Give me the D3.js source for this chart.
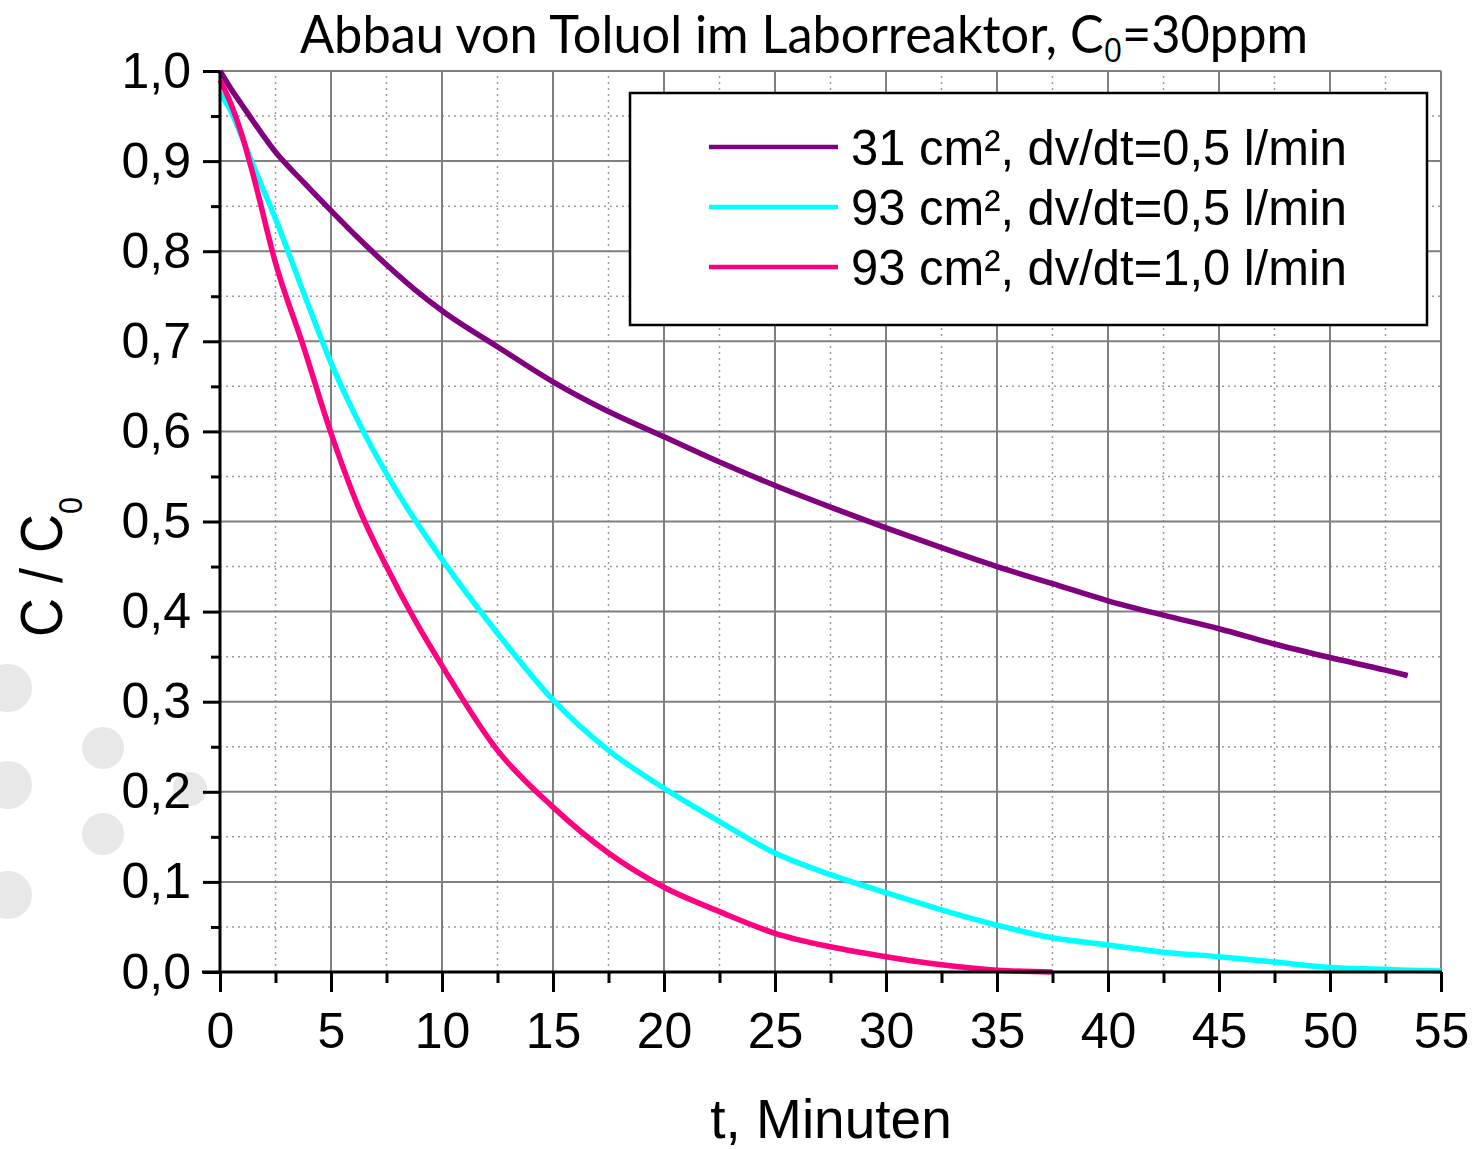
<!DOCTYPE html>
<html>

<head>
  <meta charset="UTF-8">
  <title>Abbau von Toluol</title>
  <style>
    body { margin: 0; background: #fff; }
    svg { display: block; }
  </style>
</head>

<body>
  <script src="https://cdn.jsdelivr.net/npm/d3@7"></script>
  <script>
    const width = 1479,
      height = 1149

    // Messzeitpunkte in Minuten
    const minutes = [0, 0.5, 1, 1.5, 2.5, 3.75, 5, 6.25, 7.5, 8.75, 10, 12.5, 15, 17.5, 20, 22.5,
      25, 27.5, 30, 32.5, 35, 37.5, 40, 42.5, 45, 47.5, 50, 52.5, 53.5, 55]

    // C/C0 je Versuch (null = kein Messwert)
    const area31flow05 = [1.0, 0.980, 0.962, 0.944, 0.910, 0.877, 0.845, 0.814, 0.785, 0.758, 0.734, 0.694,
      0.655, 0.622, 0.594, 0.566, 0.540, 0.516, 0.493, 0.471, 0.450, 0.431, 0.412, 0.396, 0.381, 0.364,
      0.349, 0.335, 0.329, null]
    const area93flow05 = [0.975, 0.955, 0.926, 0.895, 0.836, 0.755, 0.676, 0.610, 0.553, 0.503, 0.458, 0.376,
      0.302, 0.246, 0.204, 0.167, 0.132, 0.108, 0.088, 0.069, 0.052, 0.038, 0.030, 0.022, 0.017, 0.011,
      0.005, 0.003, 0.002, 0.001]
    const area93flow10 = [0.99, 0.963, 0.928, 0.884, 0.787, 0.695, 0.598, 0.515, 0.450, 0.392, 0.340, 0.246,
      0.183, 0.132, 0.094, 0.067, 0.043, 0.028, 0.017, 0.008, 0.002, 0.0, null, null, null, null,
      null, null, null, null]

    const seriesNames = ['31 cm², dv/dt=0,5 l/min', '93 cm², dv/dt=0,5 l/min', '93 cm², dv/dt=1,0 l/min']
    const seriesColors = ['#800080', '#00ffff', '#ff0080']

    const xTicks = d3.range(0, 56, 5)
    const xMinorTicks = d3.range(2.5, 55, 5)
    const yTicks = d3.range(0, 11).map(i => i / 10)
    const yMinorTicks = d3.range(0, 10).map(i => i / 10 + 0.05)

    const series = [area31flow05, area93flow05, area93flow10].map((vals, i) => ({
      name: seriesNames[i],
      color: seriesColors[i],
      values: minutes.map((t, j) => ({ t: t, v: vals[j] }))
    }))

    const svg = d3.select('body')
      .append('svg')
      .attr('width', width)
      .attr('height', height)

    const xScale = d3.scaleLinear()
      .domain([0, 55])
      .range([220, 1441])

    const yScale = d3.scaleLinear()
      .domain([0, 1])
      .range([972, 71])

    const fmt = d => d3.format('.1f')(d).replace('.', ',')
    const sans = 'Liberation Sans, Arial, Helvetica, sans-serif'

    // hellgraue Punkte im Hintergrund links
    const dots = [[8, 688, 24], [8, 785, 24], [8, 895, 24], [103, 748, 21], [103, 834, 21], [190, 789, 17]]
    svg.append('g')
      .selectAll('circle')
      .data(dots).enter()
      .append('circle')
      .attr('cx', d => d[0])
      .attr('cy', d => d[1])
      .attr('r', d => d[2])
      .attr('fill', '#e8e8e8')

    // Gitter: fein gepunktet, dann durchgezogen
    const grid = svg.append('g')
    grid.selectAll('line.vminor')
      .data(xMinorTicks).enter()
      .append('line')
      .attr('x1', d => xScale(d)).attr('x2', d => xScale(d))
      .attr('y1', yScale(0)).attr('y2', yScale(1))
      .attr('stroke', '#9a9a9a').attr('stroke-width', 1.5).attr('stroke-dasharray', '2,4')
    grid.selectAll('line.hminor')
      .data(yMinorTicks).enter()
      .append('line')
      .attr('y1', d => yScale(d)).attr('y2', d => yScale(d))
      .attr('x1', xScale(0)).attr('x2', xScale(55))
      .attr('stroke', '#9a9a9a').attr('stroke-width', 1.5).attr('stroke-dasharray', '2,4')
    grid.selectAll('line.vmajor')
      .data(xTicks).enter()
      .append('line')
      .attr('x1', d => xScale(d)).attr('x2', d => xScale(d))
      .attr('y1', yScale(0)).attr('y2', yScale(1))
      .attr('stroke', '#808080').attr('stroke-width', 2)
    grid.selectAll('line.hmajor')
      .data(yTicks).enter()
      .append('line')
      .attr('y1', d => yScale(d)).attr('y2', d => yScale(d))
      .attr('x1', xScale(0)).attr('x2', xScale(55))
      .attr('stroke', '#808080').attr('stroke-width', 2)

    // Messkurven
    const line = d3.line()
      .defined(d => d.v !== null)
      .x(d => xScale(d.t))
      .y(d => yScale(d.v))
      .curve(d3.curveMonotoneX)

    svg.append('g')
      .selectAll('path')
      .data(series).enter()
      .append('path')
      .attr('d', d => line(d.values))
      .attr('fill', 'none')
      .attr('stroke', d => d.color)
      .attr('stroke-width', 5.5)
      .attr('stroke-linejoin', 'round')

    // Achsen
    function styleAxis(g) {
      g.attr('font-family', sans).attr('font-size', 50)
      g.select('.domain').remove()
      g.selectAll('.tick line').attr('stroke', '#000').attr('stroke-width', 3)
      g.selectAll('.tick text').attr('fill', '#000')
    }

    svg.append('g')
      .attr('transform', `translate(${xScale(0)},0)`)
      .call(d3.axisLeft(yScale).tickValues(yMinorTicks).tickSize(9).tickFormat(''))
      .call(styleAxis)
    svg.append('g')
      .attr('transform', `translate(${xScale(0)},0)`)
      .call(d3.axisLeft(yScale).tickValues(yTicks).tickSize(17).tickPadding(12).tickFormat(fmt))
      .call(styleAxis)

    svg.append('g')
      .attr('transform', `translate(0,${yScale(0)})`)
      .call(d3.axisBottom(xScale).tickValues(xMinorTicks).tickSize(11).tickFormat(''))
      .call(styleAxis)
    svg.append('g')
      .attr('transform', `translate(0,${yScale(0)})`)
      .call(d3.axisBottom(xScale).tickValues(xTicks).tickSize(20).tickPadding(20))
      .call(styleAxis)

    svg.append('line')
      .attr('x1', xScale(0)).attr('x2', xScale(0))
      .attr('y1', yScale(1)).attr('y2', yScale(0) + 1.5)
      .attr('stroke', '#000').attr('stroke-width', 3)
    svg.append('line')
      .attr('x1', xScale(0) - 18).attr('x2', xScale(55) + 1)
      .attr('y1', yScale(0)).attr('y2', yScale(0))
      .attr('stroke', '#000').attr('stroke-width', 3)

    // Achsentitel
    svg.append('text')
      .attr('x', 831)
      .attr('y', 1138)
      .attr('text-anchor', 'middle')
      .attr('font-family', sans)
      .attr('font-size', 55)
      .text('t, Minuten')

    const yTitle = svg.append('text')
      .attr('transform', 'translate(62,567) rotate(-90) scale(0.9,1)')
      .attr('text-anchor', 'middle')
      .attr('font-family', sans)
      .attr('font-size', 60)
    yTitle.append('tspan').text('C / C')
    yTitle.append('tspan').attr('font-size', 34).attr('dy', 20).text('0')

    // Legende
    const legend = svg.append('g')
    legend.append('rect')
      .attr('x', 630).attr('y', 93)
      .attr('width', 797).attr('height', 232)
      .attr('fill', '#fff')
      .attr('stroke', '#000')
      .attr('stroke-width', 2.5)

    const rows = legend.selectAll('g.row')
      .data(series).enter()
      .append('g')
      .attr('transform', (d, i) => `translate(0,${147 + i * 60})`)
    rows.append('line')
      .attr('x1', 709).attr('x2', 838)
      .attr('stroke', d => d.color)
      .attr('stroke-width', 4.5)
    rows.append('text')
      .attr('x', 851)
      .attr('y', 18)
      .attr('font-family', sans)
      .attr('font-size', 50)
      .attr('textLength', 496)
      .attr('lengthAdjust', 'spacingAndGlyphs')
      .text(d => d.name)

    // Überschrift, schmal gesetzt
    const title = svg.append('text')
      .attr('font-family', 'Lato, Open Sans, sans-serif')
      .attr('font-size', 52)
      .attr('fill', '#000')
      .attr('text-anchor', 'middle')
    title.append('tspan').text('Abbau von Toluol im Laborreaktor, C')
    title.append('tspan')
      .attr('font-family', 'Open Sans, sans-serif')
      .attr('font-size', 33)
      .attr('fill', '#000')
      .attr('dy', 9)
      .text('0')
    title.append('tspan').attr('dy', -9).text('=30ppm')
    const tw = title.node().getBBox().width
    title.attr('transform', `translate(804,53) scale(${1008 / tw},1)`)
  </script>
</body>

</html>
